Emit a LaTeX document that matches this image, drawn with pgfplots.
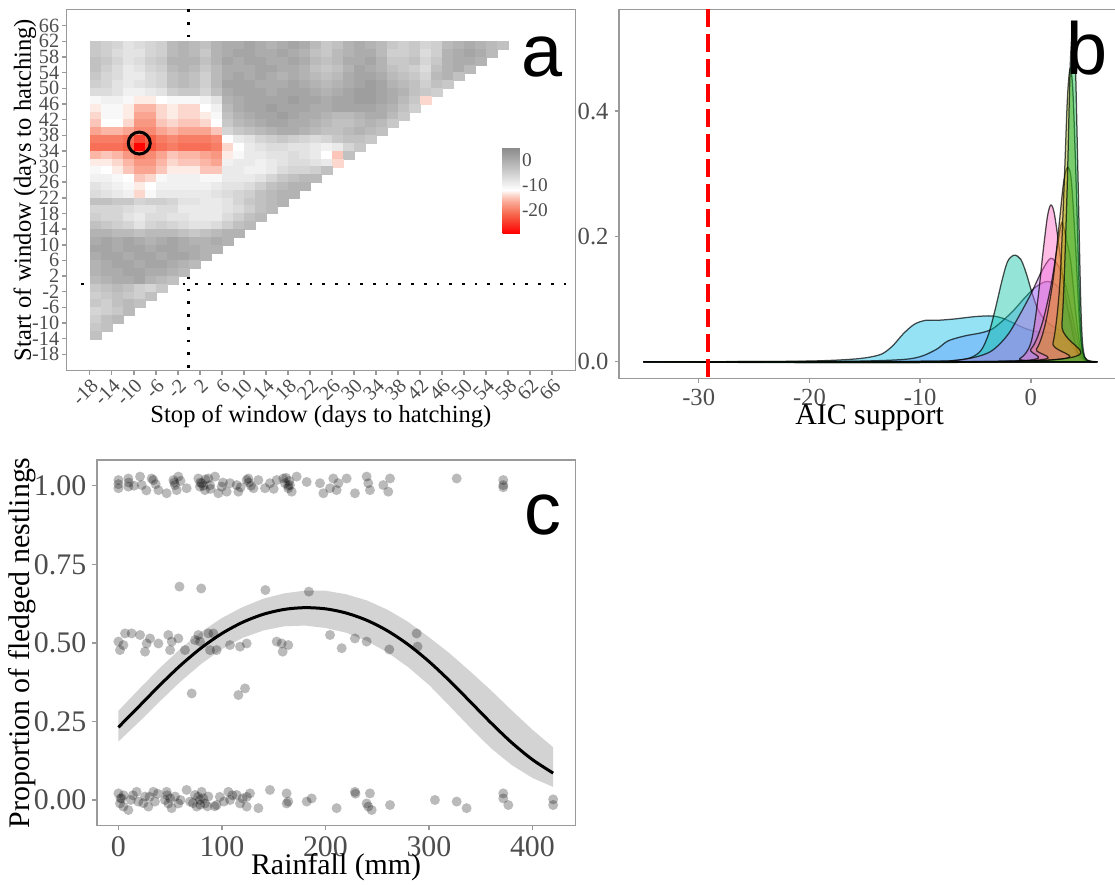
\documentclass[border=0pt]{standalone}
\usepackage{fontspec}
\setmainfont{Liberation Serif}
\newfontfamily\sansf{Liberation Sans}
\usepackage{pgfplots}
\usepackage{pgfplotstable}
\pgfplotsset{compat=1.18}

\definecolor{tickgray}{HTML}{4D4D4D}
\definecolor{framegray}{HTML}{9A9A9A}
\definecolor{bandgray}{HTML}{D3D3D3}
\definecolor{cA}{HTML}{00B9E3}
\definecolor{cB}{HTML}{619CFF}
\definecolor{cC}{HTML}{00C19F}
\definecolor{cD}{HTML}{DB72FB}
\definecolor{cE}{HTML}{FF61C3}
\definecolor{cF}{HTML}{F8766D}
\definecolor{cG}{HTML}{D39200}
\definecolor{cH}{HTML}{93AA00}
\definecolor{cI}{HTML}{00BA38}

\pgfplotsset{
  panel/.style={
    scale only axis, anchor=south west,
    axis line style={framegray, line width=0.3mm},
    xtick pos=left, ytick pos=left,
    tick align=outside, major tick length=0.9mm,
    tick style={framegray, line width=0.3mm},
    tick label style={text=tickgray},
    /pgf/number format/assume math mode=true,
  },
  dens/.style={draw=black, draw opacity=0.7, line width=0.25mm, fill opacity=0.42, smooth, tension=0.5},
}
\tikzset{letter/.style={anchor=base west, inner sep=0pt, font=\sansf\fontsize{42}{42}\selectfont}}

% delta AIC for each window (start y, stop x), 2-day cells
\pgfplotstableread[row sep=\\]{
x y v\\
-17 61 -4\\ -15 61 -5\\ -13 61 -6\\ -11 61 -8\\ -9 61 -7\\ -7 61 -6\\ -5 61 -5\\ -3 61 -2\\ -1 61 -1\\ 1 61 -2\\
3 61 -3\\ 5 61 -1\\ 7 61 0\\ 9 61 0\\ 11 61 1\\ 13 61 0\\ 15 61 -1\\ 17 61 0\\ 19 61 1\\ 21 61 0\\
23 61 -2\\ 25 61 -4\\ 27 61 -3\\ 29 61 -1\\ 31 61 0\\ 33 61 -1\\ 35 61 -2\\ 37 61 -4\\ 39 61 -5\\ 41 61 -4\\
43 61 -6\\ 45 61 -5\\ 47 61 -2\\ 49 61 -1\\ 51 61 0\\ 53 61 -1\\ 55 61 -2\\ 57 61 -3\\
-17 59 -4\\ -15 59 -5\\ -13 59 -7\\ -11 59 -8\\ -9 59 -8\\ -7 59 -6\\ -5 59 -5\\ -3 59 -2\\ -1 59 -1\\ 1 59 -2\\
3 59 -4\\ 5 59 -1\\ 7 59 0\\ 9 59 1\\ 11 59 1\\ 13 59 0\\ 15 59 0\\ 17 59 1\\ 19 59 0\\ 21 59 -1\\
23 59 -3\\ 25 59 -4\\ 27 59 -2\\ 29 59 -1\\ 31 59 0\\ 33 59 0\\ 35 59 -2\\ 37 59 -5\\ 39 59 -5\\ 41 59 -4\\
43 59 -7\\ 45 59 -5\\ 47 59 -1\\ 49 59 0\\ 51 59 1\\ 53 59 0\\ 55 59 -2\\
-17 57 -3\\ -15 57 -4\\ -13 57 -6\\ -11 57 -8\\ -9 57 -7\\ -7 57 -5\\ -5 57 -4\\ -3 57 -1\\ -1 57 -1\\ 1 57 -1\\
3 57 -3\\ 5 57 -1\\ 7 57 1\\ 9 57 0\\ 11 57 1\\ 13 57 1\\ 15 57 0\\ 17 57 0\\ 19 57 1\\ 21 57 0\\
23 57 -2\\ 25 57 -3\\ 27 57 -2\\ 29 57 0\\ 31 57 0\\ 33 57 1\\ 35 57 -1\\ 37 57 -4\\ 39 57 -4\\ 41 57 -3\\
43 57 -6\\ 45 57 -4\\ 47 57 -1\\ 49 57 0\\ 51 57 0\\ 53 57 -1\\
-17 55 -3\\ -15 55 -5\\ -13 55 -7\\ -11 55 -9\\ -9 55 -8\\ -7 55 -6\\ -5 55 -5\\ -3 55 -2\\ -1 55 -1\\ 1 55 -2\\
3 55 -4\\ 5 55 -2\\ 7 55 0\\ 9 55 0\\ 11 55 0\\ 13 55 1\\ 15 55 1\\ 17 55 0\\ 19 55 0\\ 21 55 -1\\
23 55 -3\\ 25 55 -4\\ 27 55 -3\\ 29 55 -1\\ 31 55 1\\ 33 55 0\\ 35 55 -1\\ 37 55 -3\\ 39 55 -4\\ 41 55 -5\\
43 55 -7\\ 45 55 -3\\ 47 55 -1\\ 49 55 0\\ 51 55 -2\\
-17 53 -4\\ -15 53 -6\\ -13 53 -7\\ -11 53 -9\\ -9 53 -9\\ -7 53 -7\\ -5 53 -6\\ -3 53 -3\\ -1 53 -2\\ 1 53 -3\\
3 53 -5\\ 5 53 -2\\ 7 53 0\\ 9 53 1\\ 11 53 0\\ 13 53 1\\ 15 53 0\\ 17 53 -1\\ 19 53 0\\ 21 53 -1\\
23 53 -2\\ 25 53 -3\\ 27 53 -2\\ 29 53 0\\ 31 53 1\\ 33 53 1\\ 35 53 0\\ 37 53 -2\\ 39 53 -3\\ 41 53 -4\\
43 53 -6\\ 45 53 -2\\ 47 53 -1\\ 49 53 -3\\
-17 51 -5\\ -15 51 -6\\ -13 51 -8\\ -11 51 -9\\ -9 51 -8\\ -7 51 -7\\ -5 51 -6\\ -3 51 -3\\ -1 51 -2\\ 1 51 -3\\
3 51 -5\\ 5 51 -2\\ 7 51 1\\ 9 51 1\\ 11 51 1\\ 13 51 0\\ 15 51 0\\ 17 51 0\\ 19 51 1\\ 21 51 0\\
23 51 -1\\ 25 51 -2\\ 27 51 -1\\ 29 51 0\\ 31 51 1\\ 33 51 2\\ 35 51 1\\ 37 51 -1\\ 39 51 -2\\ 41 51 -3\\
43 51 -5\\ 45 51 -3\\ 47 51 -4\\
-17 49 -7\\ -15 49 -7\\ -13 49 -8\\ -11 49 -10\\ -9 49 -10\\ -7 49 -9\\ -5 49 -8\\ -3 49 -5\\ -1 49 -4\\ 1 49 -4\\
3 49 -6\\ 5 49 -3\\ 7 49 0\\ 9 49 1\\ 11 49 1\\ 13 49 1\\ 15 49 0\\ 17 49 1\\ 19 49 1\\ 21 49 1\\
23 49 0\\ 25 49 -1\\ 27 49 0\\ 29 49 1\\ 31 49 2\\ 33 49 2\\ 35 49 1\\ 37 49 0\\ 39 49 -1\\ 41 49 -3\\
43 49 -4\\ 45 49 -5\\
-17 47 -11\\ -15 47 -10\\ -13 47 -10\\ -11 47 -11\\ -9 47 -13\\ -7 47 -13\\ -5 47 -12\\ -3 47 -11\\ -1 47 -11\\ 1 47 -11\\
3 47 -10\\ 5 47 -8\\ 7 47 -1\\ 9 47 0\\ 11 47 1\\ 13 47 1\\ 15 47 1\\ 17 47 1\\ 19 47 2\\ 21 47 1\\
23 47 1\\ 25 47 0\\ 27 47 1\\ 29 47 1\\ 31 47 2\\ 33 47 2\\ 35 47 1\\ 37 47 0\\ 39 47 -2\\ 41 47 -4\\
43 47 -14\\
-17 45 -13\\ -15 45 -11\\ -13 45 -11\\ -11 45 -13\\ -9 45 -16\\ -7 45 -16\\ -5 45 -14\\ -3 45 -13\\ -1 45 -14\\ 1 45 -14\\
3 45 -12\\ 5 45 -10\\ 7 45 -2\\ 9 45 0\\ 11 45 1\\ 13 45 1\\ 15 45 2\\ 17 45 1\\ 19 45 1\\ 21 45 1\\
23 45 0\\ 25 45 0\\ 27 45 1\\ 29 45 1\\ 31 45 1\\ 33 45 1\\ 35 45 0\\ 37 45 -1\\ 39 45 -3\\ 41 45 -5\\
-17 43 -14\\ -15 43 -11\\ -13 43 -11\\ -11 43 -13\\ -9 43 -17\\ -7 43 -17\\ -5 43 -14\\ -3 43 -13\\ -1 43 -14\\ 1 43 -14\\
3 43 -13\\ 5 43 -11\\ 7 43 -3\\ 9 43 -1\\ 11 43 0\\ 13 43 1\\ 15 43 1\\ 17 43 2\\ 19 43 1\\ 21 43 0\\
23 43 0\\ 25 43 -1\\ 27 43 -2\\ 29 43 -2\\ 31 43 -1\\ 33 43 0\\ 35 43 0\\ 37 43 -2\\ 39 43 -4\\
-17 41 -15\\ -15 41 -12\\ -13 41 -12\\ -11 41 -14\\ -9 41 -18\\ -7 41 -18\\ -5 41 -15\\ -3 41 -14\\ -1 41 -15\\ 1 41 -15\\
3 41 -14\\ 5 41 -12\\ 7 41 -4\\ 9 41 -2\\ 11 41 -1\\ 13 41 0\\ 15 41 1\\ 17 41 1\\ 19 41 0\\ 21 41 0\\
23 41 -1\\ 25 41 -2\\ 27 41 -3\\ 29 41 -3\\ 31 41 -2\\ 33 41 -1\\ 35 41 -2\\ 37 41 -4\\
-17 39 -17\\ -15 39 -16\\ -13 39 -16\\ -11 39 -17\\ -9 39 -19\\ -7 39 -19\\ -5 39 -17\\ -3 39 -16\\ -1 39 -17\\ 1 39 -17\\
3 39 -17\\ 5 39 -15\\ 7 39 -6\\ 9 39 -4\\ 11 39 -3\\ 13 39 -2\\ 15 39 -1\\ 17 39 0\\ 19 39 0\\ 21 39 -1\\
23 39 -2\\ 25 39 -3\\ 27 39 -3\\ 29 39 -2\\ 31 39 -1\\ 33 39 -2\\ 35 39 -3\\
-17 37 -20\\ -15 37 -20\\ -13 37 -20\\ -11 37 -21\\ -9 37 -24\\ -7 37 -22\\ -5 37 -20\\ -3 37 -19\\ -1 37 -20\\ 1 37 -20\\
3 37 -20\\ 5 37 -19\\ 7 37 -12\\ 9 37 -9\\ 11 37 -8\\ 13 37 -6\\ 15 37 -5\\ 17 37 -4\\ 19 37 -5\\ 21 37 -6\\
23 37 -7\\ 25 37 -6\\ 27 37 -4\\ 29 37 -3\\ 31 37 -3\\ 33 37 -4\\
-17 35 -21\\ -15 35 -21\\ -13 35 -21\\ -11 35 -22\\ -9 35 -29\\ -7 35 -23\\ -5 35 -21\\ -3 35 -20\\ -1 35 -21\\ 1 35 -21\\
3 35 -21\\ 5 35 -20\\ 7 35 -14\\ 9 35 -12\\ 11 35 -9\\ 13 35 -8\\ 15 35 -7\\ 17 35 -7\\ 19 35 -8\\ 21 35 -8\\
23 35 -9\\ 25 35 -10\\ 27 35 -9\\ 29 35 -6\\ 31 35 -4\\
-17 33 -16\\ -15 33 -15\\ -13 33 -16\\ -11 33 -18\\ -9 33 -20\\ -7 33 -19\\ -5 33 -17\\ -3 33 -15\\ -1 33 -16\\ 1 33 -16\\
3 33 -17\\ 5 33 -18\\ 7 33 -13\\ 9 33 -11\\ 11 33 -9\\ 13 33 -9\\ 15 33 -8\\ 17 33 -8\\ 19 33 -7\\ 21 33 -8\\
23 33 -9\\ 25 33 -12\\ 27 33 -15\\ 29 33 -3\\
-17 31 -13\\ -15 31 -13\\ -13 31 -14\\ -11 31 -16\\ -9 31 -18\\ -7 31 -18\\ -5 31 -16\\ -3 31 -14\\ -1 31 -15\\ 1 31 -15\\
3 31 -16\\ 5 31 -17\\ 7 31 -10\\ 9 31 -9\\ 11 31 -9\\ 13 31 -10\\ 15 31 -9\\ 17 31 -8\\ 19 31 -7\\ 21 31 -7\\
23 31 -8\\ 25 31 -9\\ 27 31 -14\\
-17 29 -11\\ -15 29 -12\\ -13 29 -13\\ -11 29 -15\\ -9 29 -17\\ -7 29 -17\\ -5 29 -15\\ -3 29 -13\\ -1 29 -13\\ 1 29 -13\\
3 29 -15\\ 5 29 -15\\ 7 29 -9\\ 9 29 -9\\ 11 29 -10\\ 13 29 -10\\ 15 29 -9\\ 17 29 -7\\ 19 29 -6\\ 21 29 -6\\
23 29 -5\\ 25 29 -3\\
-17 27 -10\\ -15 27 -10\\ -13 27 -11\\ -11 27 -12\\ -9 27 -15\\ -7 27 -14\\ -5 27 -11\\ -3 27 -10\\ -1 27 -10\\ 1 27 -10\\
3 27 -11\\ 5 27 -11\\ 7 27 -9\\ 9 27 -9\\ 11 27 -9\\ 13 27 -8\\ 15 27 -6\\ 17 27 -4\\ 19 27 -3\\ 21 27 -2\\
23 27 -2\\
-17 25 -8\\ -15 25 -9\\ -13 25 -10\\ -11 25 -11\\ -9 25 -13\\ -7 25 -12\\ -5 25 -10\\ -3 25 -10\\ -1 25 -10\\ 1 25 -10\\
3 25 -10\\ 5 25 -9\\ 7 25 -8\\ 9 25 -8\\ 11 25 -7\\ 13 25 -5\\ 15 25 -3\\ 17 25 -2\\ 19 25 -1\\ 21 25 -1\\
-17 23 -7\\ -15 23 -8\\ -13 23 -9\\ -11 23 -10\\ -9 23 -14\\ -7 23 -11\\ -5 23 -9\\ -3 23 -9\\ -1 23 -9\\ 1 23 -9\\
3 23 -9\\ 5 23 -8\\ 7 23 -7\\ 9 23 -6\\ 11 23 -5\\ 13 23 -3\\ 15 23 -2\\ 17 23 -1\\ 19 23 -1\\
-17 21 -3\\ -15 21 -3\\ -13 21 -4\\ -11 21 -4\\ -9 21 -6\\ -7 21 -5\\ -5 21 -5\\ -3 21 -6\\ -1 21 -8\\ 1 21 -8\\
3 21 -9\\ 5 21 -9\\ 7 21 -8\\ 9 21 -6\\ 11 21 -4\\ 13 21 -3\\ 15 21 -2\\ 17 21 -1\\
-17 19 -6\\ -15 19 -6\\ -13 19 -6\\ -11 19 -7\\ -9 19 -8\\ -7 19 -8\\ -5 19 -7\\ -3 19 -7\\ -1 19 -9\\ 1 19 -9\\
3 19 -9\\ 5 19 -9\\ 7 19 -8\\ 9 19 -7\\ 11 19 -5\\ 13 19 -3\\ 15 19 -2\\
-17 17 -5\\ -15 17 -6\\ -13 17 -6\\ -11 17 -8\\ -9 17 -9\\ -7 17 -7\\ -5 17 -7\\ -3 17 -8\\ -1 17 -8\\ 1 17 -9\\
3 17 -9\\ 5 17 -9\\ 7 17 -7\\ 9 17 -5\\ 11 17 -3\\ 13 17 -2\\
-17 15 -3\\ -15 15 -4\\ -13 15 -5\\ -11 15 -6\\ -9 15 -8\\ -7 15 -6\\ -5 15 -5\\ -3 15 -6\\ -1 15 -7\\ 1 15 -8\\
3 15 -8\\ 5 15 -7\\ 7 15 -5\\ 9 15 -3\\ 11 15 -2\\
-17 13 -1\\ -15 13 -1\\ -13 13 -2\\ -11 13 -2\\ -9 13 -3\\ -7 13 -2\\ -5 13 -2\\ -3 13 -2\\ -1 13 -3\\ 1 13 -4\\
3 13 -3\\ 5 13 -2\\ 7 13 -1\\ 9 13 -1\\
-17 11 0\\ -15 11 1\\ -13 11 0\\ -11 11 1\\ -9 11 0\\ -7 11 -1\\ -5 11 0\\ -3 11 1\\ -1 11 0\\ 1 11 -1\\
3 11 -1\\ 5 11 0\\ 7 11 -1\\
-17 9 1\\ -15 9 1\\ -13 9 0\\ -11 9 1\\ -9 9 1\\ -7 9 0\\ -5 9 1\\ -3 9 1\\ -1 9 0\\ 1 9 0\\
3 9 -1\\ 5 9 -1\\
-17 7 0\\ -15 7 1\\ -13 7 1\\ -11 7 0\\ -9 7 1\\ -7 7 1\\ -5 7 0\\ -3 7 1\\ -1 7 1\\ 1 7 0\\
3 7 -1\\
-17 5 -1\\ -15 5 0\\ -13 5 1\\ -11 5 1\\ -9 5 0\\ -7 5 1\\ -5 5 1\\ -3 5 0\\ -1 5 -1\\ 1 5 -2\\
-17 3 -1\\ -15 3 0\\ -13 3 0\\ -11 3 1\\ -9 3 1\\ -7 3 0\\ -5 3 0\\ -3 3 -1\\ -1 3 -2\\
-17 1 -2\\ -15 1 -1\\ -13 1 0\\ -11 1 0\\ -9 1 1\\ -7 1 -1\\ -5 1 -2\\ -3 1 -3\\
-17 -1 -4\\ -15 -1 -3\\ -13 -1 -2\\ -11 -1 -3\\ -9 -1 -5\\ -7 -1 -6\\ -5 -1 -4\\
-17 -3 -5\\ -15 -3 -4\\ -13 -3 -3\\ -11 -3 -4\\ -9 -3 -5\\ -7 -3 -3\\
-17 -5 -4\\ -15 -5 -5\\ -13 -5 -3\\ -11 -5 -2\\ -9 -5 -3\\
-17 -7 -6\\ -15 -7 -5\\ -13 -7 -4\\ -11 -7 -2\\
-17 -9 -5\\ -15 -9 -3\\ -13 -9 -2\\
-17 -11 -4\\ -15 -11 -3\\
-17 -13 -3\\
}\heat

\begin{document}
\begin{tikzpicture}
\useasboundingbox (0,0) rectangle (223mm,176.8mm);

% ---- a: window heatmap
\begin{axis}[panel, at={(13.32mm,102.66mm)}, width=101.74mm, height=72.28mm,
  xmin=-22.2, xmax=70.2, ymin=-22.2, ymax=70.2,
  xtick={-18,-14,...,66}, ytick={-18,-14,...,66},
  tick label style={font=\fontsize{11.5}{13}\selectfont},
  xticklabel style={rotate=45, anchor=north east, inner sep=1pt},
  yticklabel style={inner sep=1.5pt},
  xlabel={Stop of window (days to hatching)},
  ylabel={Start of window (days to hatching)},
  label style={font=\fontsize{14}{16}\selectfont},
  xlabel style={at={(axis description cs:0.5,-0.1447)}, anchor=base},
  ylabel style={at={(axis description cs:-0.0818,0.5)}, anchor=center},
  colormap={aic}{rgb255(0cm)=(255,0,0) rgb255(7.3cm)=(246,98,72) rgb255(12.3cm)=(250,165,145)
    rgb255(15.3cm)=(252,215,205) rgb255(17.3cm)=(255,255,255) rgb255(34.2cm)=(138,138,138)},
  point meta min=-29.3, point meta max=4.9,
  colorbar,
  colorbar style={at={(97.5mm,147.26mm)}, anchor=north west, scale only axis,
    width=3.48mm, height=17.12mm, ytick={-20,-10,0},
    axis line style={draw=none}, major tick length=0pt,
    yticklabel style={font=\fontsize{11}{12}\selectfont, text=tickgray, inner sep=1pt},
    /pgf/number format/assume math mode=true},
]
\addplot[scatter, only marks, mark=square*, mark size=0.8mm,
  mark options={xscale=1.407, line width=0.1pt},
  scatter/use mapped color={draw=mapped color, fill=mapped color},
  point meta=explicit] table[x=x, y=y, meta=v] {\heat};
\addplot[black, line width=0.54mm, dash pattern=on 0.54mm off 2mm] coordinates {(-19.6,0) (70.2,0)};
\addplot[black, line width=0.54mm, dash pattern=on 0.54mm off 2mm] coordinates {(0,70.2) (0,-22.2)};
\addplot[only marks, mark=o, mark size=2.2mm, line width=0.6mm, black] coordinates {(-9,36)};
\node[letter] at (rel axis cs:0.893,0.8135) {a};
\end{axis}

% ---- b: AIC support densities (right edge runs past the cropped figure)
\begin{axis}[panel, at={(123.84mm,101.14mm)}, width=100.16mm, height=73.8mm,
  xmin=-37.18, xmax=8.05, ymin=-0.0265, ymax=0.5623,
  xtick={-30,-20,-10,0}, ytick={0,0.2,0.4}, scaled y ticks=false,
  yticklabel style={/pgf/number format/fixed, /pgf/number format/fixed zerofill, /pgf/number format/precision=1},
  tick label style={font=\fontsize{14}{16}\selectfont},
  xlabel={AIC support},
  xlabel style={font=\fontsize{17}{19}\selectfont, at={(axis description cs:0.5,-0.125)}, anchor=base},
]
\addplot[dens, fill=cA] coordinates {(-35,0) (-25,0.0002) (-20,0.001) (-17,0.003) (-15,0.006) (-13.5,0.012) (-12.5,0.025) (-11.5,0.045) (-10.5,0.06) (-9.5,0.066) (-8.5,0.066) (-7,0.068) (-5,0.072) (-3.5,0.073) (-2.5,0.069) (-1.5,0.061) (-0.5,0.053) (0.5,0.048) (1.5,0.047) (2.5,0.043) (3.5,0.03) (4.2,0.01) (4.8,0.001) (6,0)} \closedcycle;
\addplot[dens, fill=cB] coordinates {(-35,0) (-18,0.0003) (-12,0.003) (-10,0.008) (-8.5,0.02) (-7.5,0.033) (-6,0.041) (-4.5,0.046) (-3.5,0.052) (-2.5,0.066) (-1.5,0.083) (-0.5,0.103) (0.5,0.12) (1.5,0.128) (2.5,0.118) (3.5,0.075) (4.2,0.02) (4.8,0.002) (6,0)} \closedcycle;
\addplot[dens, fill=cC] coordinates {(-35,0) (-10,0.0005) (-7,0.002) (-5.5,0.006) (-4.5,0.018) (-3.8,0.045) (-3.2,0.085) (-2.6,0.13) (-2.1,0.16) (-1.5,0.17) (-0.9,0.163) (-0.4,0.14) (0.1,0.11) (0.6,0.085) (1.2,0.068) (2,0.056) (3,0.045) (3.8,0.025) (4.5,0.004) (6,0)} \closedcycle;
\addplot[dens, fill=cD] coordinates {(-35,0) (-10,0.0005) (-6,0.004) (-4,0.013) (-3,0.025) (-2,0.045) (-1,0.075) (0,0.108) (1,0.145) (1.8,0.165) (2.5,0.152) (3.2,0.118) (3.9,0.06) (4.5,0.012) (5,0.001) (6,0)} \closedcycle;
\addplot[dens, fill=cE] coordinates {(-35,0) (-3,0.0005) (-1,0.005) (0,0.03) (0.6,0.095) (1.1,0.175) (1.5,0.232) (1.8,0.25) (2.1,0.238) (2.5,0.19) (3,0.12) (3.6,0.06) (4.2,0.015) (5,0.001) (6,0)} \closedcycle;
\addplot[dens, fill=cF] coordinates {(-35,0) (-2,0.0005) (0,0.02) (1,0.06) (1.8,0.12) (2.4,0.185) (2.8,0.222) (3.2,0.195) (3.6,0.16) (4.1,0.07) (4.6,0.01) (5.2,0) (6,0)} \closedcycle;
\addplot[dens, fill=cG] coordinates {(-35,0) (-1,0.001) (0.5,0.02) (1.3,0.06) (2,0.13) (2.5,0.21) (2.95,0.285) (3.3,0.31) (3.65,0.29) (4.05,0.18) (4.45,0.045) (4.9,0.003) (6,0)} \closedcycle;
\addplot[dens, fill=cH] coordinates {(-35,0) (1,0.002) (2,0.03) (2.6,0.12) (3,0.28) (3.3,0.42) (3.55,0.468) (3.8,0.43) (4.1,0.28) (4.45,0.07) (4.8,0.008) (6,0)} \closedcycle;
\addplot[dens, fill=cI] coordinates {(-35,0) (2,0.003) (2.8,0.06) (3.25,0.26) (3.55,0.47) (3.8,0.535) (4,0.49) (4.25,0.3) (4.55,0.07) (4.9,0.006) (6,0)} \closedcycle;
\addplot[red, line width=0.8mm, dash pattern=on 3.6mm off 1.4mm] coordinates {(-29.2,0.5623) (-29.2,-0.0265)};
\node[letter] at (rel axis cs:0.892,0.822) {b};
\end{axis}

% ---- c: fledging vs rainfall
\begin{axis}[panel, at={(19.38mm,11.66mm)}, width=95.68mm, height=73.14mm,
  xmin=-20.8, xmax=441.4, ymin=-0.0818, ymax=1.0818,
  xtick={0,100,200,300,400}, ytick={0,0.25,0.5,0.75,1}, scaled y ticks=false,
  yticklabel style={/pgf/number format/fixed, /pgf/number format/fixed zerofill, /pgf/number format/precision=2},
  tick label style={font=\fontsize{17}{19}\selectfont},
  xlabel={Rainfall (mm)}, ylabel={Proportion of fledged nestlings},
  label style={font=\fontsize{17}{19}\selectfont},
  xlabel style={at={(axis description cs:0.5,-0.1348)}, anchor=base},
  ylabel style={at={(axis description cs:-0.156,0.5)}, anchor=center},
]
% 95% band: upper edge left to right, then lower edge right to left
\addplot[fill=bandgray, draw=none] coordinates {(0,0.2840) (20,0.3529) (40,0.4201) (60,0.4816) (80,0.5350) (100,0.5792) (120,0.6138) (140,0.6405) (160,0.6574) (180,0.6662) (200,0.6660) (220,0.6546) (240,0.6350) (260,0.6054) (280,0.5665) (300,0.5179) (320,0.4666) (340,0.4087) (360,0.3488) (380,0.2850) (400,0.2235) (420,0.1679)
(420,0.0415) (400,0.0701) (380,0.1111) (360,0.1646) (340,0.2299) (320,0.2987) (300,0.3663) (280,0.4225) (260,0.4695) (240,0.5059) (220,0.5323) (200,0.5474) (180,0.5550) (160,0.5527) (140,0.5393) (120,0.5158) (100,0.4799) (80,0.4330) (60,0.3767) (40,0.3138) (20,0.2486) (0,0.1862)} -- cycle;
\addplot[only marks, mark=*, mark size=1mm, black, mark options={draw opacity=0, fill opacity=0.27}] coordinates {
(0,1.018) (0,0.992) (0,1.005) (9.6,1.023) (9.6,0.997) (10,1.01) (20.9,1.029) (22.5,1.002) (32.1,1.023) (33.7,1.018)
(38.6,0.986) (46.6,0.976) (53.1,1.018) (54.7,1.002) (54,1.01) (56.3,0.986) (57.9,1.029) (65.9,0.992) (77.2,1.023) (78.8,0.997)
(79,1.01) (80.4,1.008) (82,1.0) (83.6,0.986) (86.9,1.023) (88.5,1.002) (89,0.99) (93.3,1.029) (96.5,0.976) (99.8,0.997)
(104.6,0.981) (107.8,1.008) (114.2,1.002) (115.9,0.981) (123.9,1.018) (125.5,1.023) (126,1.01) (130.4,0.992) (135.2,1.018) (141.6,0.992)
(146.4,1.008) (152.9,1.018) (159.3,1.023) (160.9,1.008) (164.1,0.992) (164,1.0) (165.8,1.002) (165,1.015) (167.4,0.981) (172.2,1.029)
(181.9,1.012) (194.7,1.008) (198,0.976) (204.4,0.992) (207.6,1.023) (210.8,0.986) (212.5,1.008) (220.5,1.023) (228.5,0.976) (239.8,1.029)
(241.4,1.008) (243,0.986) (255.9,1.002) (260.7,0.981) (262.4,1.023) (326.8,1.023) (371.8,1.018) (371.8,1.002) (371.8,0.995)
(0,0.504) (1.5,0.477) (4.8,0.493) (6.4,0.53) (12.8,0.53) (20.9,0.525) (25.7,0.472) (27.3,0.498) (30.5,0.514) (38.6,0.498)
(48.2,0.525) (49.9,0.477) (51.5,0.504) (57.9,0.514) (64.3,0.477) (70.8,0.339) (74,0.509) (77.2,0.525) (78.8,0.504) (86.9,0.53)
(88.5,0.477) (91.7,0.53) (94.9,0.477) (107.8,0.493) (115.9,0.334) (117.5,0.488) (122.3,0.355) (123.9,0.498) (152.9,0.504) (157.7,0.498)
(158.7,0.472) (164.1,0.493) (204.4,0.525) (215.7,0.483) (228.5,0.514) (239.8,0.504) (261.7,0.479) (288.1,0.53) (289,0.488)
(59,0.679) (80,0.673) (142,0.668) (184,0.663)
(0,0.021) (1.5,-0.011) (3.1,0.005) (4.8,-0.021) (9.6,-0.032) (17.6,0.026) (19.2,-0.005) (25.7,0.011) (28.9,-0.021) (33.7,0.026)
(35.3,-0.005) (46.6,0.026) (48.2,-0.011) (51.4,-0.026) (54.7,0.011) (57.9,-0.011) (65.9,0.032) (69.2,-0.005) (74,0.016) (75.6,-0.021)
(78.8,0) (80.4,0.026) (83.6,-0.011) (86.9,0.011) (94.9,-0.016) (106.2,0.026) (107.8,0) (114.2,0.016) (117.5,-0.011) (123.9,-0.021)
(127.1,0.021) (135.2,-0.026) (146.4,0.032) (162.5,0.021) (164.1,-0.005) (162.5,-0.011) (181.9,-0.005) (186.7,0.005) (210.8,-0.026) (228.5,0.026)
(239.8,-0.011) (241.4,-0.021) (243,0.021) (244.7,-0.032) (262.4,-0.016) (305.8,0) (326.8,-0.005) (336.4,-0.026) (371.8,0.021) (371.8,0.005)
(376.7,-0.016) (2,0.005) (5,0.015) (12,0) (30,0.01) (45,0) (47,0.015) (50,0.005) (72,-0.01) (77,0.01)
(79,-0.015) (82,0.005) (93,-0.02) (110,0.015) (120,0.005) (229,0.02) (420,0.002) (420,-0.016)
(14,0.015) (24,-0.01) (38,0.02) (60,0.0) (86,-0.02) (98,0.01) (102,-0.005) (124,0.01)
(15,1.0) (27,0.985) (36,1.005) (60,1.015) (84,1.02) (101,1.01) (118,0.995) (128,1.0) (150,0.99) (162,1.025)
};
\addplot[black, line width=0.6mm, smooth] coordinates {(0,0.2315) (20,0.2982) (40,0.3653) (60,0.4284) (80,0.4839) (100,0.5298) (120,0.5655) (140,0.5909) (160,0.6063) (180,0.6120) (200,0.6083) (220,0.5949) (240,0.5717) (260,0.5382) (280,0.4943) (300,0.4407) (320,0.3790) (340,0.3124) (360,0.2452) (380,0.1824) (400,0.1284) (420,0.0855)};
\node[letter] at (rel axis cs:0.893,0.795) {c};
\end{axis}
\end{tikzpicture}
\end{document}
